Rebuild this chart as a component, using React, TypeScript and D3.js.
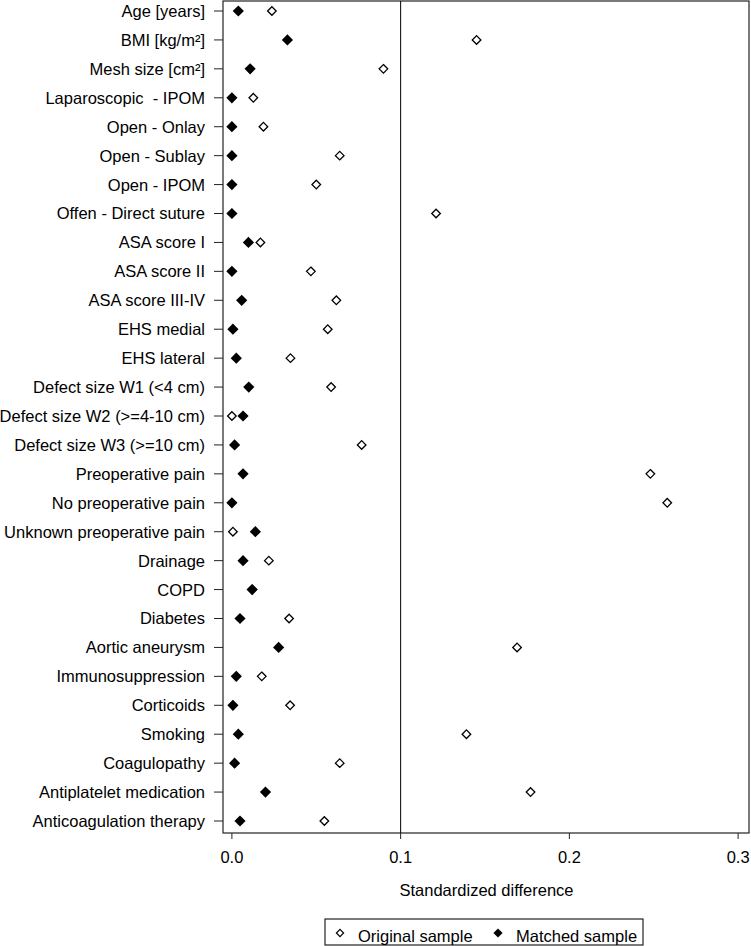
import React from "react";
import * as d3 from "d3";

const labels = [
  "Age [years]",
  "BMI [kg/m²]",
  "Mesh size [cm²]",
  "Laparoscopic  - IPOM",
  "Open - Onlay",
  "Open - Sublay",
  "Open - IPOM",
  "Offen - Direct suture",
  "ASA score I",
  "ASA score II",
  "ASA score III-IV",
  "EHS medial",
  "EHS lateral",
  "Defect size W1 (<4 cm)",
  "Defect size W2 (>=4-10 cm)",
  "Defect size W3 (>=10 cm)",
  "Preoperative pain",
  "No preoperative pain",
  "Unknown preoperative pain",
  "Drainage",
  "COPD",
  "Diabetes",
  "Aortic aneurysm",
  "Immunosuppression",
  "Corticoids",
  "Smoking",
  "Coagulopathy",
  "Antiplatelet medication",
  "Anticoagulation therapy",
];

const original = [
  0.0237, 0.145, 0.0898, 0.0127, 0.0187, 0.0639, 0.05, 0.121, 0.0169, 0.0468,
  0.0619, 0.0568, 0.0347, 0.0588, 0.0, 0.0769, 0.248, 0.258, 0.0006, 0.0219,
  0.012, 0.0339, 0.169, 0.0177, 0.0345, 0.139, 0.0639, 0.177, 0.0548,
];

const matched = [
  0.0038, 0.0329, 0.0108, 0.0, 0.0, 0.0, 0.0, 0.0, 0.0098, 0.0,
  0.0058, 0.0006, 0.0026, 0.01, 0.0066, 0.0016, 0.0066, 0.0, 0.0139, 0.0066,
  0.012, 0.0048, 0.0277, 0.0026, 0.0006, 0.0038, 0.0016, 0.0199, 0.0048,
];

const xTicks = [0, 0.1, 0.2, 0.3];
const xTickLabels = ["0.0", "0.1", "0.2", "0.3"];
const refLine = 0.1;
const axisTitle = "Standardized difference";
const legendLabels = ["Original sample", "Matched sample"];

const W = 751;
const H = 946;
const box = { left: 223, right: 749, top: 1, bottom: 833 };
const FONT = "'Liberation Sans', Arial, Helvetica, sans-serif";
const FS = 16.5;

function diamond(cx: number, cy: number, r: number) {
  return `M${cx},${cy - r}L${cx + r},${cy}L${cx},${cy + r}L${cx - r},${cy}Z`;
}

export default function App() {
  const x = d3.scaleLinear().domain([0, 0.3]).range([231.9, 738.1]);
  const y = d3.scalePoint<string>().domain(labels).range([11, 821]);

  return (
    <svg
      width={W}
      height={H}
      style={{ position: "absolute", left: 0, top: 0, background: "#fff" }}
      fontFamily={FONT}
    >
      <rect
        x={box.left}
        y={box.top}
        width={box.right - box.left}
        height={box.bottom - box.top}
        fill="none"
        stroke="#222"
        strokeWidth={1.2}
      />
      <line
        x1={x(refLine)}
        x2={x(refLine)}
        y1={box.top}
        y2={box.bottom}
        stroke="#000"
        strokeWidth={1}
      />
      {labels.map((l) => (
        <g key={l}>
          <line
            x1={box.left - 9}
            x2={box.left}
            y1={y(l)!}
            y2={y(l)!}
            stroke="#222"
            strokeWidth={1}
          />
          <text
            x={box.left - 18}
            y={y(l)!}
            dy="0.36em"
            textAnchor="end"
            fontSize={FS}
            fill="#000"
            style={{ whiteSpace: "pre" }}
          >
            {l}
          </text>
        </g>
      ))}
      {xTicks.map((t, i) => (
        <g key={t}>
          <line
            x1={x(t)}
            x2={x(t)}
            y1={box.bottom}
            y2={box.bottom + 6}
            stroke="#222"
            strokeWidth={1}
          />
          <text
            x={x(t)}
            y={857}
            dy="0.36em"
            textAnchor="middle"
            fontSize={FS}
            fill="#000"
          >
            {xTickLabels[i]}
          </text>
        </g>
      ))}
      <text
        x={(box.left + box.right) / 2 + 0.5}
        y={890}
        dy="0.36em"
        textAnchor="middle"
        fontSize={FS}
        fill="#000"
      >
        {axisTitle}
      </text>
      {labels.map((l, i) => (
        <path
          key={"o" + l}
          d={diamond(x(original[i]), y(l)!, 4.3)}
          fill="#fff"
          stroke="#000"
          strokeWidth={1.3}
        />
      ))}
      {labels.map((l, i) => (
        <path
          key={"m" + l}
          d={diamond(x(matched[i]), y(l)!, 5.6)}
          fill="#000"
          stroke="none"
        />
      ))}
      <g>
        <rect
          x={325}
          y={919}
          width={318}
          height={26}
          fill="#fff"
          stroke="#222"
          strokeWidth={1.2}
        />
        <path
          d={diamond(340, 933, 3.6)}
          fill="#fff"
          stroke="#000"
          strokeWidth={1.2}
        />
        <text x={358} y={936} dy="0.36em" fontSize={FS} fill="#000">
          {legendLabels[0]}
        </text>
        <path d={diamond(498, 933, 4.6)} fill="#000" />
        <text x={516} y={936} dy="0.36em" fontSize={FS} fill="#000">
          {legendLabels[1]}
        </text>
      </g>
    </svg>
  );
}
